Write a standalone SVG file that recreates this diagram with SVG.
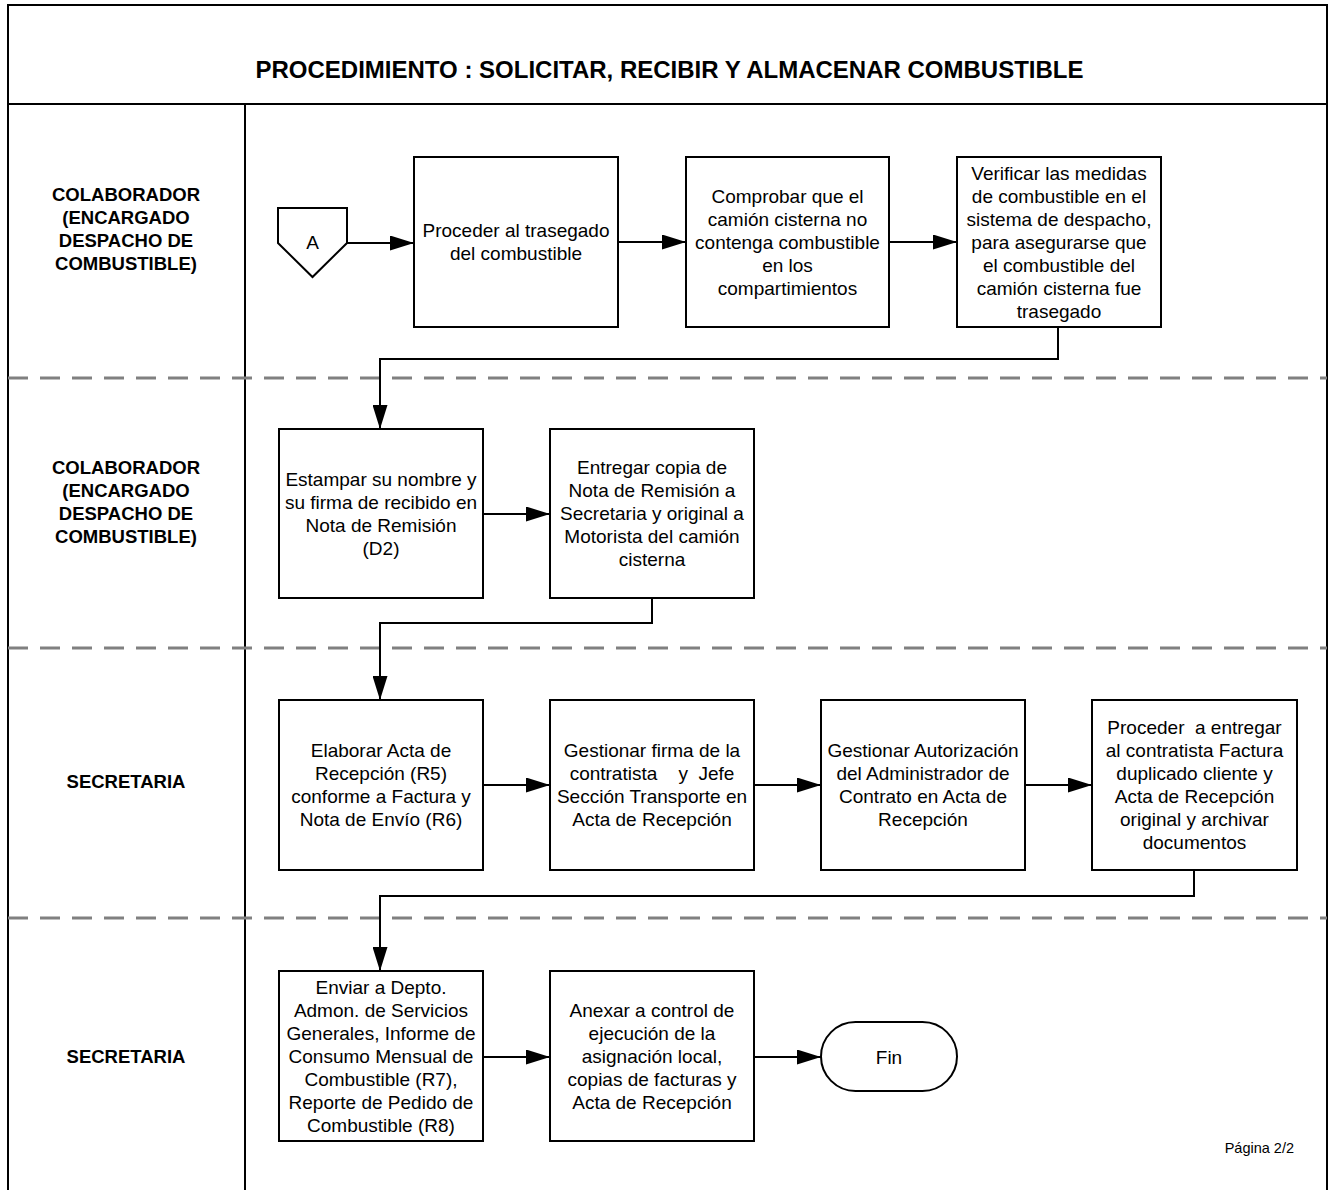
<svg xmlns="http://www.w3.org/2000/svg" width="1330" height="1190" viewBox="0 0 1330 1190">
<style>
.frame{fill:none;stroke:#000;stroke-width:2}
.lane{stroke:#808080;stroke-width:3;stroke-dasharray:20 12;fill:none}
.box{fill:#fff;stroke:#000;stroke-width:2}
.t{font-family:"Liberation Sans",Arial,sans-serif;font-size:19px;fill:#000;text-anchor:middle}
.lbl{font-family:"Liberation Sans",Arial,sans-serif;font-size:18.5px;font-weight:bold;fill:#000;text-anchor:middle}
.title{font-family:"Liberation Sans",Arial,sans-serif;font-size:24px;font-weight:bold;fill:#000;text-anchor:middle}
.pg{font-family:"Liberation Sans",Arial,sans-serif;font-size:14.5px;fill:#000;text-anchor:end}
.c{fill:none;stroke:#000;stroke-width:2;marker-end:url(#arr)}
</style>
<defs>
<marker id="arr" viewBox="0 0 10 10" refX="10" refY="5" markerWidth="24" markerHeight="15" markerUnits="userSpaceOnUse" orient="auto" preserveAspectRatio="none">
<path d="M0,0 L10,5 L0,10 z" fill="#000"/>
</marker>
</defs>
<rect width="1330" height="1190" fill="#fff"/>
<g id="frame">
<path class="frame" d="M8,1190 V5 H1327 V1190"/>
<path class="frame" d="M8,104 H1327"/>
<path class="frame" d="M245,104 V1190"/>
<path class="lane" d="M8,378 H1327"/>
<path class="lane" d="M8,648 H1327"/>
<path class="lane" d="M8,918 H1327"/>
<text class="title" x="669.5" y="78">PROCEDIMIENTO : SOLICITAR, RECIBIR Y ALMACENAR COMBUSTIBLE</text>
<text class="pg" x="1294" y="1153">Página 2/2</text>
</g>
<g id="lanes">
<text class="lbl" x="126"><tspan x="126" y="201">COLABORADOR</tspan><tspan x="126" y="224">(ENCARGADO</tspan><tspan x="126" y="247">DESPACHO DE</tspan><tspan x="126" y="270">COMBUSTIBLE)</tspan></text>
<text class="lbl" x="126"><tspan x="126" y="474">COLABORADOR</tspan><tspan x="126" y="497">(ENCARGADO</tspan><tspan x="126" y="520">DESPACHO DE</tspan><tspan x="126" y="543">COMBUSTIBLE)</tspan></text>
<text class="lbl" x="126" y="788">SECRETARIA</text>
<text class="lbl" x="126" y="1063">SECRETARIA</text>
</g>
<g id="connectors">
<path class="c" d="M347,243 H414"/>
<path class="c" d="M618,242 H686"/>
<path class="c" d="M889,242 H957"/>
<path class="c" d="M1058,327 V359 H380 V429"/>
<path class="c" d="M483,514 H550"/>
<path class="c" d="M652,598 V623 H380 V700"/>
<path class="c" d="M483,785 H550"/>
<path class="c" d="M754,785 H821"/>
<path class="c" d="M1025,785 H1092"/>
<path class="c" d="M1194,870 V896 H380 V971"/>
<path class="c" d="M483,1057 H550"/>
<path class="c" d="M754,1057 H821"/>
</g>
<g id="nA">
<polygon class="box" points="278,208 347,208 347,243 312.5,277 278,243"/>
<text class="t" x="312.5" y="249">A</text>
</g>
<g id="n1">
<rect class="box" x="414" y="157" width="204" height="170"/>
<text class="t"><tspan x="516" y="237">Proceder al trasegado</tspan><tspan x="516" y="260">del combustible</tspan></text>
</g>
<g id="n2">
<rect class="box" x="686" y="157" width="203" height="170"/>
<text class="t"><tspan x="787.5" y="203">Comprobar que el</tspan><tspan x="787.5" y="226">camión cisterna no</tspan><tspan x="787.5" y="249">contenga combustible</tspan><tspan x="787.5" y="272">en los</tspan><tspan x="787.5" y="295">compartimientos</tspan></text>
</g>
<g id="n3">
<rect class="box" x="957" y="157" width="204" height="170"/>
<text class="t"><tspan x="1059" y="180">Verificar las medidas</tspan><tspan x="1059" y="203">de combustible en el</tspan><tspan x="1059" y="226">sistema de despacho,</tspan><tspan x="1059" y="249">para asegurarse que</tspan><tspan x="1059" y="272">el combustible del</tspan><tspan x="1059" y="295">camión cisterna fue</tspan><tspan x="1059" y="318">trasegado</tspan></text>
</g>
<g id="n4">
<rect class="box" x="279" y="429" width="204" height="169"/>
<text class="t"><tspan x="381" y="486">Estampar su nombre y</tspan><tspan x="381" y="509">su firma de recibido en</tspan><tspan x="381" y="532">Nota de Remisión</tspan><tspan x="381" y="555">(D2)</tspan></text>
</g>
<g id="n5">
<rect class="box" x="550" y="429" width="204" height="169"/>
<text class="t"><tspan x="652" y="474">Entregar copia de</tspan><tspan x="652" y="497">Nota de Remisión a</tspan><tspan x="652" y="520">Secretaria y original a</tspan><tspan x="652" y="543">Motorista del camión</tspan><tspan x="652" y="566">cisterna</tspan></text>
</g>
<g id="n6">
<rect class="box" x="279" y="700" width="204" height="170"/>
<text class="t"><tspan x="381" y="757">Elaborar Acta de</tspan><tspan x="381" y="780">Recepción (R5)</tspan><tspan x="381" y="803">conforme a Factura y</tspan><tspan x="381" y="826">Nota de Envío (R6)</tspan></text>
</g>
<g id="n7">
<rect class="box" x="550" y="700" width="204" height="170"/>
<text class="t" style="white-space:pre"><tspan x="652" y="757">Gestionar firma de la</tspan><tspan x="652" y="780">contratista    y  Jefe</tspan><tspan x="652" y="803">Sección Transporte en</tspan><tspan x="652" y="826">Acta de Recepción</tspan></text>
</g>
<g id="n8">
<rect class="box" x="821" y="700" width="204" height="170"/>
<text class="t"><tspan x="923" y="757">Gestionar Autorización</tspan><tspan x="923" y="780">del Administrador de</tspan><tspan x="923" y="803">Contrato en Acta de</tspan><tspan x="923" y="826">Recepción</tspan></text>
</g>
<g id="n9">
<rect class="box" x="1092" y="700" width="205" height="170"/>
<text class="t" style="white-space:pre"><tspan x="1194.5" y="734">Proceder  a entregar</tspan><tspan x="1194.5" y="757">al contratista Factura</tspan><tspan x="1194.5" y="780">duplicado cliente y</tspan><tspan x="1194.5" y="803">Acta de Recepción</tspan><tspan x="1194.5" y="826">original y archivar</tspan><tspan x="1194.5" y="849">documentos</tspan></text>
</g>
<g id="n10">
<rect class="box" x="279" y="971" width="204" height="170"/>
<text class="t"><tspan x="381" y="994">Enviar a Depto.</tspan><tspan x="381" y="1017">Admon. de Servicios</tspan><tspan x="381" y="1040">Generales, Informe de</tspan><tspan x="381" y="1063">Consumo Mensual de</tspan><tspan x="381" y="1086">Combustible (R7),</tspan><tspan x="381" y="1109">Reporte de Pedido de</tspan><tspan x="381" y="1132">Combustible (R8)</tspan></text>
</g>
<g id="n11">
<rect class="box" x="550" y="971" width="204" height="170"/>
<text class="t"><tspan x="652" y="1017">Anexar a control de</tspan><tspan x="652" y="1040">ejecución de la</tspan><tspan x="652" y="1063">asignación local,</tspan><tspan x="652" y="1086">copias de facturas y</tspan><tspan x="652" y="1109">Acta de Recepción</tspan></text>
</g>
<g id="nFin">
<rect class="box" x="821" y="1022" width="136" height="69" rx="34.5" ry="34.5"/>
<text class="t" x="889" y="1064">Fin</text>
</g>
</svg>
